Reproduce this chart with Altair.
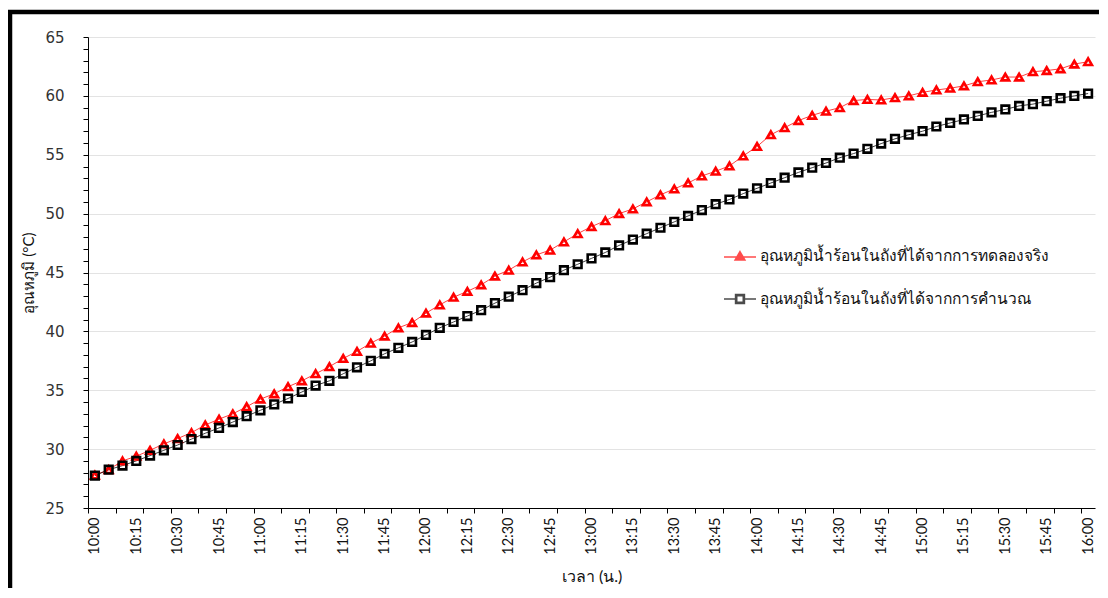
import altair as alt
import pandas as pd

# categories: readings every 5 minutes from 10:00 to 16:00
times = [f"{10 + m // 60}:{m % 60:02d}" for m in range(0, 365, 5)]

S1 = "อุณหภูมิน้ำร้อนในถังที่ได้จากการทดลองจริง"
S2 = "อุณหภูมิน้ำร้อนในถังที่ได้จากการคำนวณ"

experimental = [
    27.8, 28.25, 29.0, 29.4, 29.9, 30.45, 30.9, 31.4, 32.05, 32.55,
    33.0, 33.6, 34.25, 34.7, 35.3, 35.8, 36.4, 37.0, 37.7, 38.3,
    39.0, 39.6, 40.3, 40.75, 41.55, 42.25, 42.9, 43.4, 43.95, 44.7,
    45.2, 45.9, 46.5, 46.9, 47.6, 48.3, 48.9, 49.4, 50.0, 50.4,
    51.0, 51.6, 52.1, 52.6, 53.2, 53.6, 54.05, 54.9, 55.7, 56.7,
    57.3, 57.9, 58.35, 58.7, 59.0, 59.6, 59.7, 59.65, 59.85, 60.0,
    60.3, 60.5, 60.65, 60.85, 61.2, 61.35, 61.6, 61.6, 62.05, 62.15,
    62.3, 62.7, 62.9,
]
calculated = [
    27.75, 28.25, 28.6, 29.0, 29.45, 29.9, 30.35, 30.85, 31.35, 31.8,
    32.3, 32.8, 33.3, 33.8, 34.3, 34.85, 35.4, 35.8, 36.4, 36.95,
    37.5, 38.1, 38.6, 39.1, 39.7, 40.3, 40.8, 41.3, 41.8, 42.4,
    42.95, 43.5, 44.1, 44.6, 45.2, 45.7, 46.2, 46.7, 47.3, 47.8,
    48.3, 48.8, 49.3, 49.8, 50.3, 50.8, 51.2, 51.7, 52.15, 52.6,
    53.05, 53.5, 53.9, 54.3, 54.75, 55.1, 55.5, 55.95, 56.35, 56.7,
    57.0, 57.4, 57.7, 58.0, 58.3, 58.6, 58.85, 59.15, 59.3, 59.55,
    59.8, 60.0, 60.2,
]

y_ticks = list(range(25, 66))


def to_minutes(t):
    h, m = t.split(":")
    return (int(h) - 10) * 60 + int(m)


minutes = [to_minutes(t) for t in times]
rows = []
for name, vals in [(S1, experimental), (S2, calculated)]:
    for t, mi, v in zip(times, minutes, vals):
        rows.append({"time": t, "minute": mi, "temp": v, "series": name})
df = pd.DataFrame(rows)

label_minutes = [m for m in minutes if m % 15 == 0]
boundary_ticks = [m - 2.5 for m in minutes[::2]]
x_values = sorted(boundary_ticks + label_minutes)

x_axis = alt.Axis(
    values=x_values,
    title="เวลา (น.)",
    labelExpr="datum.value % 15 === 0 ? (10 + floor(datum.value / 60)) + ':' + (datum.value % 60 < 10 ? '0' : '') + (datum.value % 60) : ''",
    labelAngle=270,
    labelFont="Lato",
    labelFontSize=14.5,
    labelColor="#111111",
    labelPadding=4,
    labelOverlap=False,
    labelFlush=False,
    tickSize=5,
    tickColor="#000000",
    tickOpacity={"condition": {"test": "datum.value % 15 === 0", "value": 0}, "value": 1},
    domainColor="#000000",
    grid=False,
    titleFont="Lato",
    titleFontSize=16,
    titleFontWeight="normal",
    titleColor="#111111",
    titlePadding=14,
)

y_axis = alt.Axis(
    values=y_ticks,
    title="อุณหภูมิ (°C)",
    labelExpr="datum.value % 5 === 0 ? datum.label : ''",
    labelFont="DejaVu Sans",
    labelFontSize=15,
    labelColor="#333333",
    labelPadding=19,
    tickSize=5,
    tickColor="#000000",
    domainColor="#000000",
    gridColor="#e3e3e3",
    gridOpacity={"condition": {"test": "datum.value % 5 === 0", "value": 1}, "value": 0},
    titleFont="Lato",
    titleFontSize=15,
    titleFontWeight="normal",
    titleColor="#111111",
    titlePadding=8,
)

x_enc = alt.X("minute:Q", scale=alt.Scale(domain=[-2.5, 362.5], nice=False, zero=False), axis=x_axis)
y_enc = alt.Y("temp:Q", scale=alt.Scale(domain=[25, 65], nice=False, zero=False), axis=y_axis)


def color_scale():
    return alt.Scale(domain=[S1, S2], range=["#ff0000", "#000000"])


base = alt.Chart(df).encode(x=x_enc, y=y_enc)

lines = base.mark_line(strokeWidth=1, opacity=0.75).encode(
    color=alt.Color("series:N", scale=color_scale(), legend=None),
)

points = base.mark_point(filled=False, strokeWidth=2.6, size=58, opacity=1).encode(
    color=alt.Color("series:N", scale=color_scale(), legend=None),
    shape=alt.Shape("series:N", scale=alt.Scale(domain=[S1, S2], range=["triangle-up", "square"]), legend=None),
)

tri_path = ("M-1.6,0.1H1.6 M0,-0.45L0.5,0.4L-0.5,0.4Z M0,-0.25L0.3,0.27L-0.3,0.27Z "
            "M0,-0.08L0.12,0.15L-0.12,0.15Z")
sq_path = ("M-1.6,0H-0.45 M0.45,0H1.6 M-0.45,-0.45H0.45V0.45H-0.45Z "
           "M-0.32,-0.32H0.32V0.32H-0.32Z")

legend_def = alt.Legend(
    title=None,
    orient="none",
    legendX=641,
    legendY=208,
    symbolSize=400,
    symbolStrokeWidth=1.4,
    labelOffset=9,
    rowPadding=23,
    padding=0,
    labelFont="Lato",
    labelFontSize=15.5,
    labelColor="#111111",
    labelLimit=600,
)

legend_layer = base.mark_point(filled=False, strokeWidth=1.4).encode(
    color=alt.Color("series:N", scale=color_scale(), legend=legend_def),
    shape=alt.Shape("series:N", scale=alt.Scale(domain=[S1, S2], range=[tri_path, sq_path]), legend=legend_def),
).transform_filter("false")

frame_src = pd.DataFrame({"k": [0]})
frame_left = alt.Chart(frame_src).mark_rule(color="#000000", strokeWidth=4.5).encode(
    x=alt.value(-78), y=alt.value(-27), y2=alt.value(560)
)
frame_top = alt.Chart(frame_src).mark_rule(color="#000000", strokeWidth=4.5).encode(
    x=alt.value(-80), x2=alt.value(1020), y=alt.value(-25)
)

chart = alt.layer(frame_left, frame_top, lines, points, legend_layer).resolve_scale(
    shape="independent", color="independent"
).properties(
    width=1007,
    height=471,
    padding={"left": 80, "top": 29, "right": 4, "bottom": 80},
    autosize=alt.AutoSizeParams(type="none"),
    background="#ffffff",
).configure_view(stroke=None)

chart.save("out.html", embed_options={"renderer": "svg", "actions": False})
